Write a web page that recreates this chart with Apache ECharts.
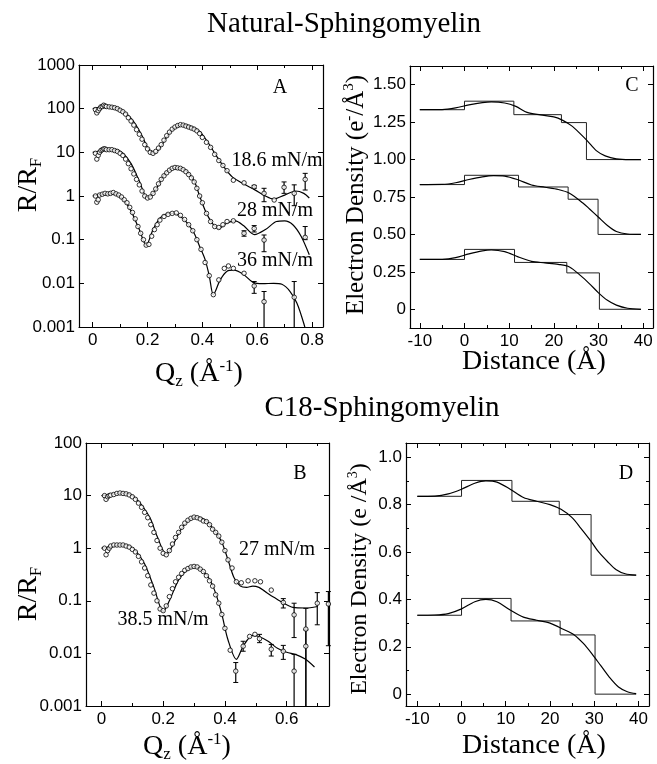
<!DOCTYPE html>
<html><head><meta charset="utf-8">
<script src="https://cdn.jsdelivr.net/npm/echarts@6/dist/echarts.min.js"></script>
<style>html,body{margin:0;padding:0;background:#fff}#c{width:657px;height:764px}</style>
</head><body><div id="c"></div>
<script>
// ---------- Panel A (Natural SM reflectivity) ----------
const fitA186 = [[0,100],[0.03,110],[0.06,115],[0.09,105],[0.12,80],[0.15,50],[0.18,24],[0.2,13],[0.225,9.5],[0.25,14],[0.28,28],[0.31,40],[0.33,43],[0.36,39],[0.39,30],[0.42,17],[0.45,8.5],[0.48,4.5],[0.51,2.7],[0.55,1.9],[0.59,1.4],[0.63,1.0],[0.66,0.85],[0.7,1.05],[0.74,1.3],[0.77,1.15],[0.79,0.9]];
const ptsA186 = [[0.01,95],[0.015,80],[0.02,90],[0.025,100],[0.03,110],[0.035,112],[0.04,120],[0.045,115],[0.05,112],[0.06,110],[0.07,108],[0.08,105],[0.09,100],[0.1,92],[0.11,85],[0.12,75],[0.13,62],[0.14,52],[0.15,42],[0.16,33],[0.17,26],[0.18,20],[0.19,15],[0.2,12],[0.21,10],[0.22,9.5],[0.23,10.5],[0.24,12.5],[0.25,15],[0.26,19],[0.27,24],[0.28,29],[0.29,34],[0.3,38],[0.31,41],[0.32,43],[0.33,42],[0.34,40],[0.35,38],[0.36,36],[0.37,34],[0.38,31],[0.39,27],[0.4,22],[0.415,17],[0.43,13],[0.445,9],[0.46,6.5],[0.475,5],[0.49,3.8],[0.513,2.3],[0.552,2.0],[0.589,1.63],[0.625,1.15],[0.662,0.81],[0.698,1.58],[0.735,1.15],[0.775,2.4]];
const errA186 = [[0.589,1.5,1.75],[0.625,0.74,1.5],[0.698,1.15,2.1],[0.735,0.6,1.8],[0.775,1.37,3.3]];

const fitA28 = [[0,10],[0.02,10.5],[0.05,11.5],[0.08,11.5],[0.11,9.5],[0.14,5.5],[0.17,2.2],[0.2,0.9],[0.23,1.4],[0.26,3.0],[0.29,4.3],[0.31,4.5],[0.34,3.8],[0.37,2.2],[0.39,1.0],[0.415,0.4],[0.44,0.22],[0.46,0.18],[0.49,0.24],[0.52,0.27],[0.55,0.21],[0.59,0.13],[0.63,0.17],[0.67,0.26],[0.7,0.27],[0.73,0.22],[0.76,0.12],[0.79,0.045]];
const ptsA28 = [[0.01,9.5],[0.015,7],[0.02,8.5],[0.025,10],[0.03,11],[0.035,11.5],[0.04,12],[0.045,12],[0.05,11.5],[0.06,11.5],[0.07,11.5],[0.08,11],[0.09,10.5],[0.1,9.5],[0.11,8.5],[0.12,7],[0.13,5.5],[0.14,4.2],[0.15,3.2],[0.16,2.4],[0.17,1.8],[0.18,1.3],[0.19,1.0],[0.2,0.9],[0.21,0.95],[0.22,1.15],[0.23,1.45],[0.24,1.9],[0.25,2.4],[0.26,2.9],[0.27,3.4],[0.28,3.9],[0.29,4.3],[0.3,4.5],[0.31,4.4],[0.32,4.3],[0.33,4.0],[0.34,3.6],[0.35,3.1],[0.36,2.6],[0.37,2.1],[0.38,1.5],[0.39,1.0],[0.4,0.7],[0.415,0.4],[0.43,0.26],[0.445,0.2],[0.46,0.19],[0.475,0.22],[0.49,0.26],[0.513,0.27],[0.552,0.14],[0.589,0.18],[0.625,0.098],[0.775,0.113]];
const errA28 = [[0.552,0.12,0.16],[0.589,0.15,0.21],[0.625,0.053,0.128],[0.775,0.1,0.2]];

const fitA36 = [[0,1.0],[0.02,1.05],[0.05,1.12],[0.08,1.12],[0.11,0.85],[0.14,0.45],[0.17,0.17],[0.195,0.075],[0.22,0.17],[0.245,0.31],[0.27,0.39],[0.295,0.4],[0.32,0.34],[0.345,0.24],[0.37,0.14],[0.39,0.07],[0.41,0.035],[0.425,0.015],[0.44,0.0055],[0.465,0.012],[0.49,0.019],[0.515,0.02],[0.55,0.016],[0.585,0.0105],[0.62,0.0098],[0.66,0.01],[0.69,0.0095],[0.72,0.0065],[0.745,0.0035],[0.77,0.0012],[0.79,0.0004]];
const ptsA36 = [[0.01,1.0],[0.015,0.72],[0.02,0.82],[0.025,1.05],[0.035,1.1],[0.045,1.15],[0.055,1.12],[0.065,1.15],[0.075,1.2],[0.085,1.12],[0.095,1.05],[0.105,0.95],[0.115,0.82],[0.125,0.7],[0.135,0.55],[0.145,0.42],[0.155,0.3],[0.165,0.2],[0.175,0.14],[0.185,0.1],[0.195,0.075],[0.205,0.078],[0.215,0.12],[0.225,0.17],[0.235,0.22],[0.245,0.28],[0.26,0.34],[0.275,0.38],[0.29,0.4],[0.305,0.41],[0.32,0.36],[0.335,0.29],[0.35,0.22],[0.365,0.16],[0.38,0.1],[0.395,0.06],[0.41,0.03],[0.425,0.015],[0.44,0.0055],[0.46,0.012],[0.48,0.022],[0.495,0.025],[0.513,0.022],[0.552,0.017],[0.589,0.0087],[0.625,0.0038],[0.735,0.0048]];
const errA36 = [[0.589,0.0059,0.011],[0.625,0.0004,0.0065],[0.735,0.0004,0.011]];

// ---------- Panel B (C18 SM reflectivity) ----------
const fitB27 = [[0,10],[0.03,10.5],[0.06,11],[0.08,11],[0.11,9],[0.14,5.5],[0.16,3.5],[0.18,1.7],[0.21,0.77],[0.23,1.1],[0.26,2.4],[0.29,3.7],[0.31,3.9],[0.34,3.3],[0.37,2.0],[0.39,1.3],[0.41,0.6],[0.43,0.27],[0.45,0.19],[0.47,0.18],[0.49,0.19],[0.51,0.18],[0.53,0.15],[0.56,0.115],[0.59,0.09],[0.62,0.075],[0.66,0.073],[0.7,0.078]];
const ptsB27 = [[0.01,10],[0.015,8.5],[0.02,9.5],[0.025,10],[0.03,10.2],[0.04,10.5],[0.05,11],[0.06,11.2],[0.07,11],[0.08,10.8],[0.09,10.3],[0.1,9.5],[0.11,8.5],[0.12,7.2],[0.13,6],[0.14,4.8],[0.15,3.8],[0.16,2.8],[0.17,2.0],[0.18,1.4],[0.19,1.0],[0.2,0.8],[0.21,0.75],[0.22,0.9],[0.23,1.2],[0.24,1.6],[0.25,2.0],[0.26,2.5],[0.27,3.0],[0.28,3.4],[0.29,3.7],[0.3,3.9],[0.31,3.8],[0.32,3.6],[0.33,3.3],[0.34,3.2],[0.35,2.8],[0.36,2.3],[0.37,2.0],[0.38,1.7],[0.39,1.3],[0.4,0.9],[0.41,0.6],[0.423,0.42],[0.437,0.23],[0.453,0.22],[0.475,0.24],[0.497,0.24],[0.515,0.23],[0.55,0.16],[0.589,0.093],[0.624,0.054],[0.662,0.029],[0.699,0.09],[0.735,0.087]];
const errB27 = [[0.589,0.073,0.11],[0.624,0.02,0.09],[0.662,0.0004,0.072],[0.699,0.035,0.143],[0.735,0.014,0.15]];

const fitB385 = [[0,1],[0.03,1.05],[0.06,1.15],[0.08,1.15],[0.11,0.9],[0.14,0.5],[0.17,0.18],[0.2,0.063],[0.22,0.1],[0.25,0.25],[0.28,0.4],[0.3,0.45],[0.33,0.36],[0.35,0.26],[0.37,0.14],[0.39,0.055],[0.41,0.018],[0.437,0.0077],[0.46,0.014],[0.49,0.022],[0.51,0.021],[0.54,0.017],[0.57,0.0125],[0.6,0.0105],[0.63,0.0095],[0.66,0.0078],[0.69,0.0055]];
const ptsB385 = [[0.01,1.0],[0.015,0.75],[0.02,0.9],[0.025,1.0],[0.03,1.1],[0.04,1.15],[0.05,1.15],[0.06,1.15],[0.07,1.15],[0.08,1.1],[0.09,1.05],[0.1,0.95],[0.11,0.85],[0.12,0.7],[0.13,0.55],[0.14,0.42],[0.15,0.3],[0.16,0.2],[0.17,0.14],[0.18,0.1],[0.19,0.07],[0.2,0.065],[0.21,0.08],[0.22,0.12],[0.23,0.17],[0.24,0.23],[0.25,0.28],[0.26,0.33],[0.27,0.38],[0.28,0.41],[0.29,0.44],[0.3,0.45],[0.31,0.44],[0.32,0.4],[0.33,0.36],[0.34,0.3],[0.35,0.24],[0.36,0.19],[0.37,0.13],[0.38,0.09],[0.39,0.055],[0.4,0.03],[0.417,0.0115],[0.435,0.0046],[0.459,0.0137],[0.48,0.021],[0.497,0.023],[0.512,0.019],[0.55,0.012],[0.589,0.011],[0.624,0.0046],[0.662,0.0137]];
const errB385 = [[0.435,0.0028,0.0067],[0.459,0.011,0.017],[0.512,0.016,0.023],[0.55,0.0089,0.0148],[0.589,0.0077,0.0142],[0.624,0.0004,0.0096],[0.662,0.0004,0.028]];

// ---------- Panel C (Natural SM electron density) ----------
const boxC1 = [[-10,1.333],[0,1.39],[11.05,1.30],[21.7,1.247],[27.3,1.0],[39.5,1.0]];
const boxC2 = [[-10,0.833],[0,0.895],[12.1,0.817],[23.2,0.735],[29.9,0.5],[39.5,0.5]];
const boxC3 = [[-10,0.333],[0,0.40],[11.2,0.313],[22.9,0.243],[30.2,0],[39.5,0]];
const smC1 = [[-10,1.333],[-5,1.334],[-2,1.345],[1,1.365],[4,1.38],[6,1.385],[9,1.378],[11.5,1.355],[14,1.315],[17,1.298],[20,1.285],[22,1.262],[24,1.225],[26,1.17],[27.5,1.125],[29.5,1.06],[31.5,1.025],[34,1.005],[37,1.0],[39.5,1.0]];
const smC2 = [[-10,0.833],[-5,0.834],[-2,0.845],[1,0.867],[4,0.885],[6.5,0.893],[9,0.89],[12,0.865],[15,0.83],[18,0.815],[21,0.8],[23.5,0.775],[26.5,0.71],[28,0.67],[30,0.615],[32,0.56],[34,0.52],[36.5,0.503],[39.5,0.5]];
const smC3 = [[-10,0.333],[-5,0.334],[-2,0.345],[1,0.37],[4,0.39],[6,0.396],[9,0.385],[12,0.35],[15,0.32],[18,0.31],[21,0.3],[23.5,0.283],[26,0.225],[28,0.17],[30,0.11],[32,0.06],[34,0.028],[36.5,0.007],[39.5,0]];

// ---------- Panel D (C18 SM electron density) ----------
const boxD1 = [[-10,0.835],[0,0.902],[11.4,0.814],[22.1,0.758],[29.3,0.502],[39.5,0.502]];
const boxD2 = [[-10,0.333],[0,0.404],[11.2,0.309],[22.3,0.25],[30.2,0],[39.5,0]];
const smD1 = [[-10,0.835],[-6,0.836],[-3,0.845],[0,0.865],[3,0.89],[5.5,0.9],[8,0.895],[11,0.865],[14,0.83],[17,0.814],[20,0.8],[22.5,0.78],[25,0.745],[27,0.7],[29.3,0.645],[31,0.6],[33,0.56],[35,0.525],[37,0.508],[39.5,0.502]];
const smD2 = [[-10,0.333],[-6,0.334],[-3,0.34],[0,0.36],[3,0.39],[5.5,0.4],[8,0.39],[11,0.355],[14,0.325],[17,0.312],[20,0.3],[23,0.274],[25.5,0.25],[27.5,0.215],[29.5,0.17],[31.5,0.12],[33.5,0.07],[35.5,0.03],[37.5,0.01],[39.5,0.002]];

// tick labels
const cYTicks = [0,0.25,0.5,0.75,1.0,1.25,1.5];

const SERIF = '"Liberation Serif","Times New Roman",serif';
const SANS = '"Liberation Sans",Arial,sans-serif';

function logFmt(v){ const e=Math.round(Math.log10(v)); return e>=0 ? String(Math.pow(10,e)) : Math.pow(10,e).toFixed(-e); }
function qFmt(v){ return Math.abs(v)<1e-9 ? '0' : String(+v.toFixed(1)); }
function dFmt(v){ return String(Math.round(v)); }
function cyFmt(v){ const r=Math.round(v*8); if (r%2!==0 || r<0) return ''; if (r===0) return '0'; return v.toFixed(2); }
function dyFmt(v){ return Math.abs(v)<1e-9 ? '0' : v.toFixed(1); }

const grids = [
  {left:79, top:65, width:244, height:262},
  {left:410, top:66, width:243, height:262},
  {left:86, top:443, width:243, height:263},
  {left:406, top:443, width:243, height:263}
];

function baseAxis(grid, pos, main, extra){
  return Object.assign({
    gridIndex:grid, position:pos, type:'value',
    axisLine:{show:true, onZero:false, lineStyle:{color:'#000', width:1.2}},
    axisTick:{show:true, inside:true, length:5, lineStyle:{color:'#000', width:1}},
    minorTick:{show:true, splitNumber:2, length:3, lineStyle:{color:'#000', width:1}},
    splitLine:{show:false}, minorSplitLine:{show:false},
    axisLabel:{show:main, color:'#000', fontFamily:SANS, fontSize:17, margin:(pos==='bottom'?5:4), showMinLabel:false, showMaxLabel:false}
  }, extra);
}
function withFmt(ax, fmt){ ax.axisLabel.formatter = fmt; return ax; }

const xAxes = [];
const yAxes = [];
// A
xAxes.push(withFmt(baseAxis(0,'bottom',true,{min:-0.05,max:0.84,splitNumber:4}), qFmt));
xAxes.push(baseAxis(0,'top',false,{min:-0.05,max:0.84,splitNumber:4}));
// C
xAxes.push(withFmt(baseAxis(1,'bottom',true,{min:-12.2,max:42.2,splitNumber:5}), dFmt));
xAxes.push(baseAxis(1,'top',false,{min:-12.2,max:42.2,splitNumber:5}));
// B
xAxes.push(withFmt(baseAxis(2,'bottom',true,{min:-0.05,max:0.737,splitNumber:4}), qFmt));
xAxes.push(baseAxis(2,'top',false,{min:-0.05,max:0.737,splitNumber:4}));
// D
xAxes.push(withFmt(baseAxis(3,'bottom',true,{min:-12.56,max:42.4,splitNumber:5}), dFmt));
xAxes.push(baseAxis(3,'top',false,{min:-12.56,max:42.4,splitNumber:5}));

function logAxis(grid,pos,main,min,max){
  const a = baseAxis(grid,pos,main,{type:'log', logBase:10, min:min, max:max});
  a.minorTick = {show:false};
  a.axisLabel.showMinLabel = true; a.axisLabel.showMaxLabel = true;
  a.axisLabel.formatter = logFmt;
  return a;
}
yAxes.push(logAxis(0,'left',true,0.001,1000));
yAxes.push(logAxis(0,'right',false,0.001,1000));
function cAxis(pos, main){
  const a = baseAxis(1,pos,main,{min:-0.125,max:1.625,interval:0.125});
  a.minorTick = {show:false};
  a.axisTick.customValues = cYTicks;
  a.axisLabel.customValues = cYTicks;
  a.axisLabel.formatter = cyFmt;
  a.axisLabel.showMinLabel = true;
  a.axisLabel.showMaxLabel = true;
  return a;
}
yAxes.push(cAxis('left',true));
yAxes.push(cAxis('right',false));
yAxes.push(logAxis(2,'left',true,0.001,100));
yAxes.push(logAxis(2,'right',false,0.001,100));
yAxes.push(withFmt(baseAxis(3,'left',true,{min:-0.05,max:1.06,splitNumber:5}), dyFmt));
yAxes.push(baseAxis(3,'right',false,{min:-0.05,max:1.06,splitNumber:5}));

function line(ai, data, smooth){
  return {type:'line', xAxisIndex:ai, yAxisIndex:ai, data:data, smooth:smooth, symbol:'none', showSymbol:false,
    lineStyle:{color:'#000', width:1.2}, silent:true, clip:true, z:3};
}
function step(ai, data){
  return {type:'line', xAxisIndex:ai, yAxisIndex:ai, data:data, step:'end', symbol:'none', showSymbol:false,
    lineStyle:{color:'#222', width:1}, silent:true, clip:true, z:2};
}
function pts(ai, data){
  return {type:'scatter', xAxisIndex:ai, yAxisIndex:ai, data:data, symbol:'circle', symbolSize:4.5,
    itemStyle:{color:'#fff', borderColor:'#000', borderWidth:1}, silent:true, clip:true, z:4};
}
function errRender(params, api){
  const x = api.value(0), lo = api.value(1), hi = api.value(2);
  const p1 = api.coord([x, hi]), p2 = api.coord([x, lo]);
  const cs = params.coordSys;
  const bottom = cs.y + cs.height;
  const w = 2.5;
  const ch = [];
  let y2 = p2[1], capLo = true;
  if (y2 > bottom) { y2 = bottom; capLo = false; }
  ch.push({type:'line', shape:{x1:p1[0], y1:p1[1], x2:p1[0], y2:y2}, style:{stroke:'#000', lineWidth:1.2}});
  ch.push({type:'line', shape:{x1:p1[0]-w, y1:p1[1], x2:p1[0]+w, y2:p1[1]}, style:{stroke:'#000', lineWidth:1}});
  if (capLo) ch.push({type:'line', shape:{x1:p2[0]-w, y1:y2, x2:p2[0]+w, y2:y2}, style:{stroke:'#000', lineWidth:1}});
  return {type:'group', children:ch};
}
function err(ai, data){
  return {type:'custom', xAxisIndex:ai, yAxisIndex:ai, data:data, renderItem:errRender, silent:true, z:3,
    encode:{x:0, y:[1,2]}};
}

const series = [
  line(0, fitA186, 0.3), line(0, fitA28, 0.3), line(0, fitA36, 0.3),
  err(0, errA186), err(0, errA28), err(0, errA36),
  pts(0, ptsA186), pts(0, ptsA28), pts(0, ptsA36),
  step(2, boxC1), step(2, boxC2), step(2, boxC3),
  line(2, smC1, 0.3), line(2, smC2, 0.3), line(2, smC3, 0.3),
  line(4, fitB27, 0.3), line(4, fitB385, 0.3),
  err(4, errB27), err(4, errB385),
  pts(4, ptsB27), pts(4, ptsB385),
  step(6, boxD1), step(6, boxD2),
  line(6, smD1, 0.3), line(6, smD2, 0.3)
];

function txt(x, y, text, size, extra){
  return Object.assign({type:'text', x:x, y:y, z:10,
    style:{text:text, font:size+'px '+SERIF, fill:'#000', textAlign:'center', textVerticalAlign:'middle'}}, extra||{});
}
function rich(x, y, text, size, rot){
  return {type:'text', x:x, y:y, z:10, rotation: rot ? Math.PI/2 : 0,
    style:{text:text, fill:'#000', textAlign:'center', textVerticalAlign:'middle',
      rich:{
        m:{fontFamily:SERIF, fontSize:size, lineHeight:size+4, color:'#000'},
        s:{fontFamily:SERIF, fontSize:Math.round(size*0.62), lineHeight:9, verticalAlign:'bottom', color:'#000'},
        p:{fontFamily:SERIF, fontSize:Math.round(size*0.6), lineHeight:12, verticalAlign:'top', color:'#000'}
      }}};
}

const graphics = [
  txt(344, 24, 'Natural-Sphingomyelin', 29),
  txt(382, 408, 'C18-Sphingomyelin', 29),
  txt(280, 88, 'A', 20), txt(632, 86, 'C', 20), txt(300, 474, 'B', 20), txt(626, 474, 'D', 20),
  txt(277, 161, '18.6 mN/m', 20), txt(275, 211, '28 mN/m', 20), txt(275, 261, '36 mN/m', 20),
  txt(277, 550, '27 mN/m', 20), txt(163, 620, '38.5 mN/m', 20),
  rich(29, 185, '{m|R/R}{s|F}', 28, true),
  rich(29, 594, '{m|R/R}{s|F}', 28, true),
  rich(199, 374, '{m|Q}{s|z}{m| (Å}{p|-1}{m|)}', 28, false),
  rich(187, 747, '{m|Q}{s|z}{m| (Å}{p|-1}{m|)}', 28, false),
  rich(534, 362, '{m|Distance (Å)}', 28, false),
  rich(534, 746, '{m|Distance (Å)}', 28, false),
  rich(356, 195, '{m|Electron Density (e}{p|-}{m|/Å}{p|3}{m|)}', 25, true),
  rich(360, 579, '{m|Electron Density (e /Å}{p|3}{m|)}', 24, true)
];

const chart = echarts.init(document.getElementById('c'), null, {renderer:'canvas'});
chart.setOption({
  animation:false,
  backgroundColor:'#fff',
  grid:grids,
  xAxis:xAxes,
  yAxis:yAxes,
  series:series,
  graphic:graphics
});
</script></body></html>
